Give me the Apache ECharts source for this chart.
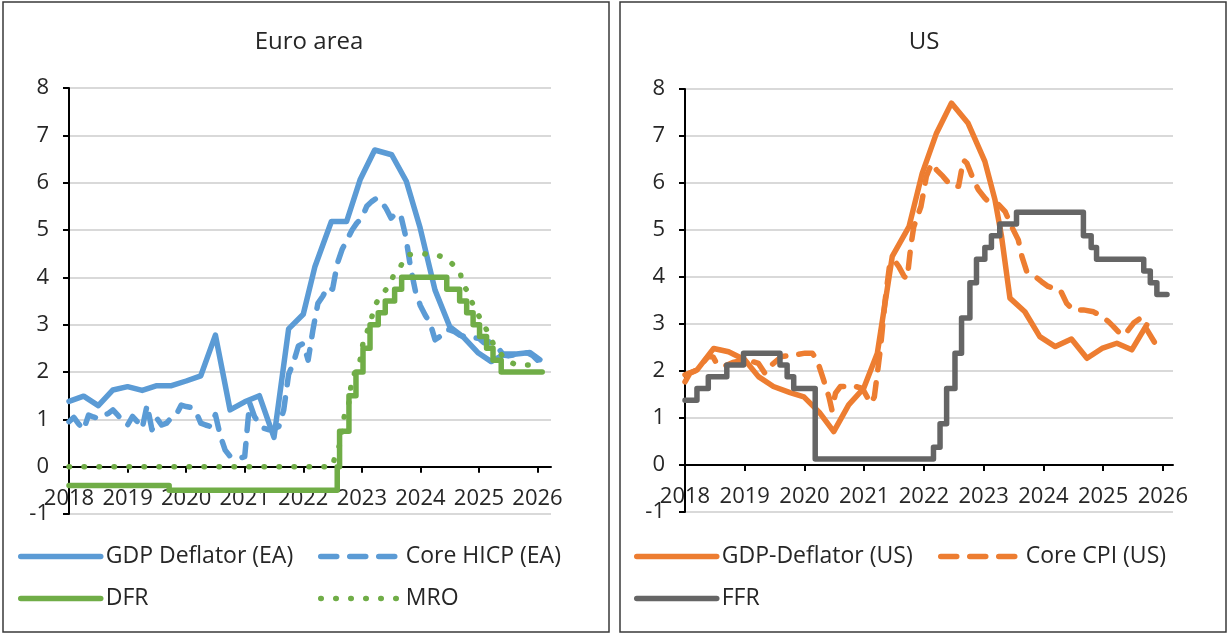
<!DOCTYPE html>
<html>
<head>
<meta charset="utf-8">
<title>Euro area / US</title>
<script src="https://cdn.jsdelivr.net/npm/echarts@6/dist/echarts.min.js"></script>
<style>
html, body { margin: 0; padding: 0; background: #fff; }
#chart { width: 1228px; height: 634px; }
</style>
</head>
<body>
<div id="chart"></div>
<script>
// year ticks (both panels)
var years = [2018, 2019, 2020, 2021, 2022, 2023, 2024, 2025, 2026];

// ---- Euro area ----
// GDP deflator (EA), quarterly, % y/y
var eaGdpDates = [2018.0, 2018.25, 2018.5, 2018.75, 2019.0, 2019.25, 2019.5, 2019.75, 2020.0, 2020.25,
  2020.5, 2020.75, 2021.0, 2021.25, 2021.5, 2021.75, 2022.0, 2022.2, 2022.48, 2022.74, 2022.97,
  2023.22, 2023.51, 2023.76, 2023.99, 2024.25, 2024.5, 2024.73, 2024.99, 2025.21, 2025.44,
  2025.64, 2025.87, 2026.04];
var eaGdp = [1.38, 1.49, 1.29, 1.62, 1.69, 1.61, 1.71, 1.71, 1.81, 1.92,
  2.78, 1.20, 1.37, 1.50, 0.62, 2.91, 3.22, 4.23, 5.18, 5.18, 6.06,
  6.69, 6.59, 6.03, 5.07, 3.73, 2.96, 2.74, 2.40, 2.22, 2.38,
  2.38, 2.41, 2.26];

// Core HICP (EA), monthly from Jan 2018
var eaCoreStart = 2018;
var eaCore = [
  0.95, 1.04, 0.90, 0.78, 1.09, 1.05, 1.02, 1.09, 1.12, 1.20, 1.09, 0.95,
  0.88, 1.06, 0.95, 0.81, 1.30, 0.78, 1.02, 0.88, 0.92, 1.04, 1.10, 1.30,
  1.27, 1.25, 1.16, 0.92, 0.88, 0.85, 1.10, 0.65, 0.35, 0.22, 0.20, 0.18,
  0.21, 1.35, 1.06, 0.90, 0.81, 0.78, 0.80, 0.85, 1.20, 1.95, 2.20, 2.55,
  2.60, 2.25, 2.90, 3.45, 3.60, 3.80, 3.75, 4.30, 4.60, 4.80, 5.00, 5.15,
  5.25, 5.50, 5.60, 5.67, 5.60, 5.45, 5.25, 5.36, 5.30, 4.86, 4.20, 3.70,
  3.40, 3.20, 3.03, 2.68, 2.75, 2.89, 2.89, 2.85, 2.78, 2.75, 2.73, 2.72,
  2.71, 2.62, 2.64, 2.58, 2.50, 2.36, 2.34, 2.36, 2.40, 2.40, 2.40, 2.35,
  2.25];

// ECB deposit facility rate, value from each date on
var dfrDates = [2018.0, 2019.71, 2022.58, 2022.62, 2022.78, 2022.90, 2023.02, 2023.14, 2023.28, 2023.40,
  2023.56, 2023.68, 2024.45, 2024.67, 2024.79, 2024.90, 2025.01, 2025.13, 2025.24, 2025.38, 2026.08];
var dfr = [-0.4, -0.5, 0, 0.75, 1.5, 2.0, 2.5, 3.0, 3.25, 3.5,
  3.75, 4.0, 3.75, 3.5, 3.25, 3.0, 2.75, 2.5, 2.25, 2.0, 2.0];

// ECB main refinancing rate
var mroDates = [2018.0, 2022.50, 2022.56, 2022.64, 2022.70, 2022.77, 2022.82, 2022.91, 2022.97, 2023.02,
  2023.08, 2023.14, 2023.23, 2023.31, 2023.46, 2023.57, 2023.66, 2023.77, 2024.03, 2024.26,
  2024.45, 2024.68, 2024.71, 2024.79, 2024.94, 2025.02, 2025.13, 2025.24, 2025.33, 2025.44,
  2025.64, 2026.07];
var mro = [0, 0, 0.32, 0.49, 1.06, 1.27, 1.76, 2.11, 2.25, 2.61,
  2.82, 3.03, 3.42, 3.59, 3.81, 4.12, 4.23, 4.48, 4.50, 4.48,
  4.40, 4.12, 3.88, 3.73, 3.31, 3.14, 2.89, 2.61, 2.47, 2.26,
  2.15, 2.15];

// ---- US ----
var usGdpDates = [2018.0, 2018.2, 2018.48, 2018.73, 2019.0, 2019.23, 2019.48, 2019.76, 2019.99, 2020.25,
  2020.49, 2020.74, 2020.99, 2021.22, 2021.47, 2021.75, 2021.97, 2022.21, 2022.46, 2022.74,
  2023.02, 2023.19, 2023.30, 2023.44, 2023.69, 2023.94, 2024.20, 2024.47, 2024.73, 2024.98,
  2025.23, 2025.48, 2025.73];
var usGdp = [1.92, 2.02, 2.48, 2.41, 2.24, 1.88, 1.67, 1.54, 1.45, 1.12,
  0.71, 1.28, 1.63, 2.38, 4.44, 5.07, 6.20, 7.06, 7.70, 7.27,
  6.46, 5.64, 4.86, 3.55, 3.26, 2.73, 2.52, 2.68, 2.27, 2.48,
  2.59, 2.45, 2.98];

var usCpiDates = [2018.0, 2018.08, 2018.2, 2018.39, 2018.47, 2018.53, 2018.64, 2018.8, 2019.03, 2019.23,
  2019.34, 2019.4, 2019.45, 2019.62, 2019.82, 2020.01, 2020.13, 2020.21, 2020.32, 2020.41,
  2020.46, 2020.52, 2020.6, 2020.71, 2020.83, 2020.97, 2021.11, 2021.17, 2021.22, 2021.27,
  2021.35, 2021.42, 2021.5, 2021.58, 2021.67, 2021.72, 2021.78, 2021.83, 2021.95, 2021.99,
  2022.04, 2022.13, 2022.21, 2022.32, 2022.46, 2022.58, 2022.66, 2022.72, 2022.83, 2022.91,
  2023.02, 2023.13, 2023.25, 2023.36, 2023.47, 2023.58, 2023.64, 2023.72, 2023.86, 2023.97,
  2024.08, 2024.17, 2024.28, 2024.39, 2024.50, 2024.67, 2024.84, 2024.98, 2025.09, 2025.17,
  2025.28, 2025.37, 2025.42, 2025.51, 2025.62, 2025.87, 2026.01];
var usCpi = [1.77, 1.95, 2.02, 2.31, 2.30, 2.16, 2.09, 2.18, 2.24, 2.16,
  1.95, 2.02, 2.13, 2.31, 2.34, 2.38, 2.38, 2.24, 1.81, 1.45,
  1.17, 1.53, 1.67, 1.67, 1.68, 1.63, 1.31, 1.45, 1.95, 2.45,
  3.50, 4.20, 4.36, 4.22, 4.01, 3.97, 4.65, 5.07, 5.50, 5.78,
  6.14, 6.42, 6.28, 6.14, 5.93, 5.93, 6.49, 6.42, 6.07, 5.86,
  5.68, 5.54, 5.54, 5.39, 5.07, 4.79, 4.44, 4.12, 4.01, 3.90,
  3.80, 3.76, 3.73, 3.44, 3.30, 3.30, 3.26, 3.16, 3.05, 2.95,
  2.80, 2.77, 2.87, 3.02, 3.12, 2.59, 2.66];

// Fed funds rate (mid of target range), value from each date on
var ffrDates = [2018.0, 2018.2, 2018.39, 2018.7, 2018.98, 2019.59, 2019.71, 2019.82, 2020.18, 2022.16,
  2022.27, 2022.38, 2022.52, 2022.63, 2022.77, 2022.88, 2023.02, 2023.13, 2023.27, 2023.55,
  2024.67, 2024.80, 2024.89, 2025.68, 2025.79, 2025.90, 2026.07];
var ffr = [1.38, 1.63, 1.88, 2.13, 2.38, 2.13, 1.88, 1.63, 0.13, 0.38,
  0.88, 1.63, 2.38, 3.13, 3.88, 4.38, 4.63, 4.88, 5.13, 5.38,
  4.88, 4.63, 4.38, 4.13, 3.88, 3.63, 3.63];

var FONT = '"Open Sans", "Noto Sans", sans-serif';
var TXT = '#262626';
var BLUE = '#5B9BD5', GREEN = '#70AD47', ORANGE = '#ED7D31', GREY = '#656565';

function pairs(xs, ys) {
  return ys.map(function (v, i) { return [xs[i], v]; });
}
function monthly(start, ys) {
  return ys.map(function (v, i) { return [start + i / 12, v]; });
}

// x axis sits on y = 0: pushed up from the grid bottom by one y unit
function xAxisFor(gi, max, zeroOffset) {
  return {
    type: 'value', gridIndex: gi, min: 2018, max: max, interval: 1,
    position: 'bottom', offset: -zeroOffset,
    axisLine: { show: true, onZero: false, lineStyle: { color: '#000', width: 2 } },
    axisTick: { show: true, length: 6, customValues: years, lineStyle: { color: '#000', width: 2 } },
    axisLabel: {
      customValues: years, color: TXT, fontSize: 22, fontFamily: FONT, margin: 21,
      formatter: function (v) { return Number.isInteger(v) ? String(v) : ''; }
    },
    splitLine: { show: false }
  };
}
function yAxisFor(gi) {
  return {
    type: 'value', gridIndex: gi, min: -1, max: 8, interval: 1,
    axisLine: { show: true, onZero: false, lineStyle: { color: '#000', width: 2 } },
    axisTick: { show: true, length: 6, lineStyle: { color: '#000', width: 2 } },
    axisLabel: { color: TXT, fontSize: 22, fontFamily: FONT, margin: 20 },
    splitLine: { show: true, lineStyle: { color: '#d9d9d9', width: 2 } }
  };
}
function line(name, gi, data, color, type, extra) {
  var s = {
    name: name, type: 'line', xAxisIndex: gi, yAxisIndex: gi, data: data,
    symbol: 'none', showSymbol: false, silent: true,
    lineStyle: { color: color, width: 5.5, type: type, cap: 'round', join: 'round' },
    itemStyle: { color: color }
  };
  for (var k in extra) s[k] = extra[k];
  return s;
}
function legendAt(name, left, top) {
  return {
    data: [name], left: left, top: top, padding: 0, itemWidth: 80, itemHeight: 20,
    itemStyle: { opacity: 0, borderWidth: 0 },
    lineStyle: { width: 5.5, cap: 'round' },
    textStyle: { color: TXT, fontSize: 23, fontFamily: FONT }, selectedMode: false
  };
}

var DASH = [16, 13];
var DOTS = [0.5, 14.5];

var option = {
  animation: false,
  grid: [
    { left: 69, top: 88, width: 482, height: 426 },
    { left: 685, top: 89, width: 488, height: 423 }
  ],
  xAxis: [xAxisFor(0, 2026.23, 426 / 9), xAxisFor(1, 2026.17, 423 / 9)],
  yAxis: [yAxisFor(0), yAxisFor(1)],
  legend: [
    legendAt('GDP Deflator (EA)', 18, 545),
    legendAt('Core HICP (EA)', 318, 545),
    legendAt('DFR', 18, 587),
    legendAt('MRO', 318, 587),
    legendAt('GDP-Deflator (US)', 634, 545),
    legendAt('Core CPI (US)', 938, 545),
    legendAt('FFR', 634, 587)
  ],
  series: [
    line('GDP Deflator (EA)', 0, pairs(eaGdpDates, eaGdp), BLUE, 'solid'),
    line('Core HICP (EA)', 0, monthly(eaCoreStart, eaCore), BLUE, DASH),
    line('DFR', 0, pairs(dfrDates, dfr), GREEN, 'solid', { step: 'end' }),
    line('MRO', 0, pairs(mroDates, mro), GREEN, DOTS),
    line('GDP-Deflator (US)', 1, pairs(usGdpDates, usGdp), ORANGE, 'solid'),
    line('Core CPI (US)', 1, pairs(usCpiDates, usCpi), ORANGE, DASH),
    line('FFR', 1, pairs(ffrDates, ffr), GREY, 'solid', { step: 'end' })
  ],
  graphic: [
    { type: 'rect', shape: { x: 3, y: 2, width: 606, height: 630 },
      style: { fill: 'none', stroke: '#3a3a3a', lineWidth: 1.5 }, silent: true },
    { type: 'rect', shape: { x: 620, y: 2, width: 606, height: 630 },
      style: { fill: 'none', stroke: '#3a3a3a', lineWidth: 1.5 }, silent: true },
    { type: 'text', x: 309, y: 42, silent: true,
      style: { text: 'Euro area', fill: TXT, font: '24px ' + FONT,
        textAlign: 'center', textVerticalAlign: 'middle', align: 'center', verticalAlign: 'middle' } },
    { type: 'text', x: 924, y: 42, silent: true,
      style: { text: 'US', fill: TXT, font: '24px ' + FONT,
        textAlign: 'center', textVerticalAlign: 'middle', align: 'center', verticalAlign: 'middle' } }
  ]
};

var chart = echarts.init(document.getElementById('chart'), null, { renderer: 'canvas' });
chart.setOption(option);
</script>
</body>
</html>
